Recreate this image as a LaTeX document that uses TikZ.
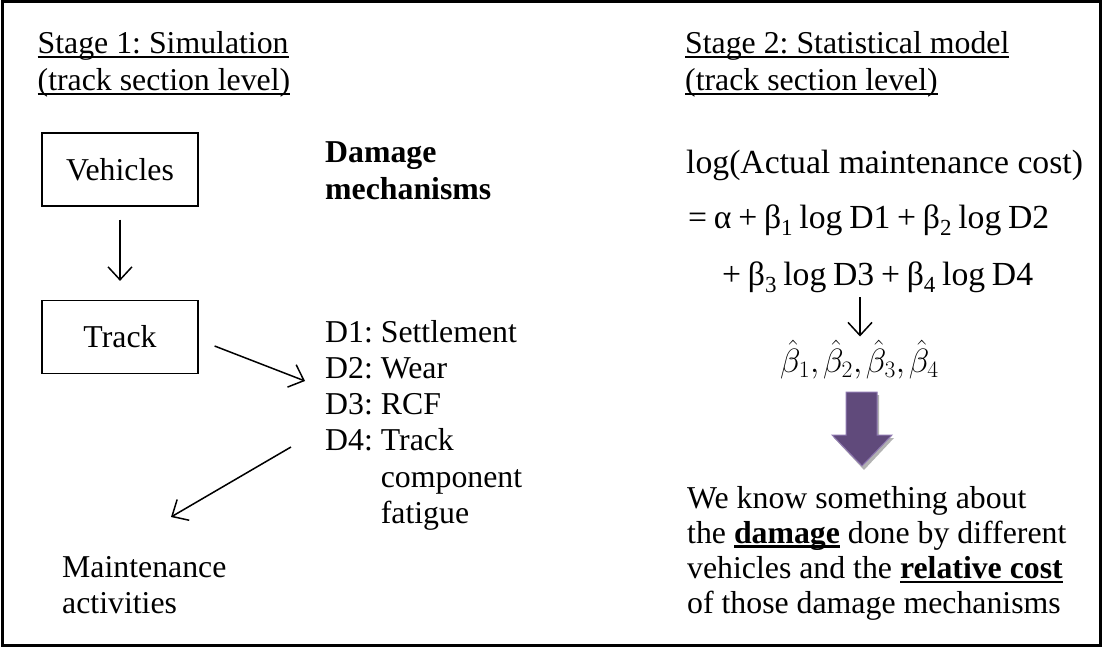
\RequirePackage{fix-cm}
\documentclass[tikz,border=0pt]{standalone}
\usepackage{fontspec}
\setmainfont{Liberation Serif}
\usetikzlibrary{arrows.meta,calc}
\newcommand\myul[2][0.06em]{\setbox0=\hbox{#2}\rlap{\rule[-0.16em]{\wd0}{#1}}\box0{}}
\newcommand\lines[1]{\vtop{\halign{##\hfil\cr#1\crcr}}}
\newcommand\lo[1]{\raisebox{-0.22em}{\fontsize{23}{23}\selectfont #1}}
\newcommand\tightsp{\spaceskip=0.2em\relax}
\newcommand\cm{{,}\mkern2mu}
\definecolor{arrpurple}{HTML}{604A7B}
\definecolor{arredge}{HTML}{8E78B0}
\tikzset{
  every node/.style={inner sep=0pt, font=\fontsize{31.8}{37}\selectfont\frenchspacing},
  txt/.style={anchor=base west},
  fml/.style={anchor=base west, font=\fontsize{33.7}{37}\selectfont},
  box/.style={draw, line width=1.2pt, minimum width=156, minimum height=73},
  arr/.style={line width=1.5pt, -{Straight Barb[length=13pt,width=24pt,line width=1.5pt]}}
}
\begin{document}
\begin{tikzpicture}[x=1pt,y=-1pt]
\useasboundingbox (0,0) rectangle (1106,648);
\draw[line width=3pt] (2,1.5) rectangle (1100.5,645.5);

% Stage 1
\node[txt] (s1) at (37.5,53) {\lines{\myul{Stage 1: Simulation}\cr\myul{(track section level)}}};
\node[box] (veh) at (120,169.5) {Vehicles};
\node[box] (trk) at (120,337) {Track};
\draw[arr, shorten <=13pt, shorten >=19pt] (veh) -- (trk);

\node[txt] (dm) at (325,162) {\lines{\textbf{Damage}\cr\textbf{mechanisms}}};
\node[txt, font=\fontsize{31.8}{36.3}\selectfont\frenchspacing] (dl) at (325,342) {\lines{D1: Settlement\cr D2: Wear\cr D3: RCF\cr D4: Track\cr\phantom{D4: }component\cr\phantom{D4: }fatigue}};
\node[txt, font=\fontsize{31.8}{36}\selectfont] (mt) at (62,577) {\lines{Maintenance\cr activities}};

\coordinate (a1) at ($(trk.east)+(16,9)$);
\coordinate (a2) at ($(dl.base west)+(-20,39)$);
\draw[arr] (a1) -- (a2);
\coordinate (b1) at ($(dl.base west)+(-34,105)$);
\coordinate (b2) at ($(mt.base west)+(109,-60)$);
\draw[arr] (b1) -- (b2);

% Stage 2
\node[txt] (s2) at (685,53) {\lines{\myul{Stage 2: Statistical model}\cr\myul{(track section level)}}};
\node[fml] (f1) at (686,173) {log(Actual maintenance cost)};
\node[fml] (f2) at (688,228) {\tightsp = α + β\lo{1} log D1 + β\lo{2} log D2};
\node[fml] (f3) at (722,285) {\tightsp + β\lo{3} log D3 + β\lo{4} log D4};
\node[anchor=base west, font=\fontsize{33.7}{37}\selectfont] (bh) at (780,372) {$\hat{\beta}_1\cm\hat{\beta}_2\cm\hat{\beta}_3\cm\hat{\beta}_4$};
\coordinate (c1) at ($(f3.base west)+(138,12)$);
\draw[arr, shorten >=3pt] (c1) -- (c1 |- bh.north);

% purple arrow
\fill[black!30] (848,395) -- (879,395) -- (879,438) -- (894,438) -- (864,470) -- (834,438) -- (848,438) -- cycle;
\draw[fill=arrpurple, draw=arredge, line width=1pt] (846,392) -- (877,392) -- (877,435) -- (892,435) -- (862,466) -- (832,435) -- (846,435) -- cycle;

\node[txt, font=\fontsize{31.8}{35.2}\selectfont\frenchspacing] (bt) at (687,508) {\lines{We know something about\cr the \myul[0.09em]{\textbf{damage}} done by different\cr vehicles and the \myul[0.09em]{\textbf{relative cost}}\cr of those damage mechanisms}};
\end{tikzpicture}
\end{document}
